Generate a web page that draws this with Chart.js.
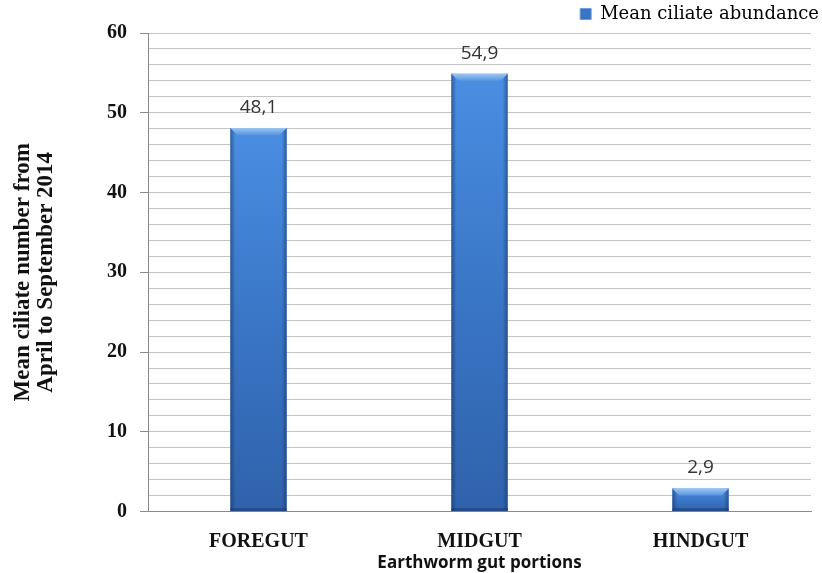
<!DOCTYPE html>
<html>
<head>
<meta charset="utf-8">
<script src="https://cdn.jsdelivr.net/npm/chart.js@4"></script>
<style>
  html, body { margin: 0; padding: 0; background: #ffffff; }
  #wrap { width: 822px; height: 573px; }
</style>
</head>
<body>
<div id="wrap"><canvas id="chart" width="822" height="573"></canvas></div>
<script>
// Gut portions and mean ciliate counts (April–September 2014)
const categories = ['FOREGUT', 'MIDGUT', 'HINDGUT'];
const meanAbundance = [48.1, 54.9, 2.9];
const seriesName = 'Mean ciliate abundance';
const yTitle = ['Mean ciliate number from', 'April to September 2014'];
const xTitle = 'Earthworm gut portions';

const serif = "'Liberation Serif', 'DejaVu Serif', serif";
const wideSerif = "'DejaVu Serif', 'Liberation Serif', serif";
const sans = "'Open Sans', 'Noto Sans', sans-serif";
const BAR_PCT = 0.255;

// Vertical shading: light at the top of each column, deeper toward its base
function barFill(ctx) {
  const chart = ctx.chart;
  const ys = chart.scales && chart.scales.y;
  if (ctx.type !== 'data' || !ys || !chart.chartArea) return '#3b78c8';
  const top = ys.getPixelForValue(meanAbundance[ctx.dataIndex]);
  const base = ys.getPixelForValue(0);
  if (!Number.isFinite(top) || !Number.isFinite(base) || base === top) return '#3b78c8';
  const g = chart.ctx.createLinearGradient(0, top, 0, base);
  g.addColorStop(0, '#4a8ee2');
  g.addColorStop(0.5, '#3a76c6');
  g.addColorStop(1, '#2f62ab');
  return g;
}

// Bevel on top, dark rims on the sides and the value label above each bar
const barDecor = {
  id: 'barDecor',
  afterDatasetsDraw(chart) {
    const ctx = chart.ctx;
    const meta = chart.getDatasetMeta(0);
    meta.data.forEach((bar, i) => {
      const w = bar.width;
      const left = bar.x - w / 2, right = bar.x + w / 2;
      const top = bar.y, base = bar.base;
      const bev = 7;
      ctx.save();
      const gl = ctx.createLinearGradient(left, 0, left + 5, 0);
      gl.addColorStop(0, 'rgba(20,50,100,0.55)');
      gl.addColorStop(1, 'rgba(20,50,100,0)');
      ctx.fillStyle = gl;
      ctx.fillRect(left, top, 5, base - top);
      const gr = ctx.createLinearGradient(right - 5, 0, right, 0);
      gr.addColorStop(0, 'rgba(20,50,100,0)');
      gr.addColorStop(1, 'rgba(20,50,100,0.55)');
      ctx.fillStyle = gr;
      ctx.fillRect(right - 5, top, 5, base - top);
      const g = ctx.createLinearGradient(0, top, 0, top + bev);
      g.addColorStop(0, '#9cc6f4');
      g.addColorStop(1, '#5a96e0');
      ctx.fillStyle = g;
      ctx.beginPath();
      ctx.moveTo(left, top);
      ctx.lineTo(right, top);
      ctx.lineTo(right - bev, top + bev);
      ctx.lineTo(left + bev, top + bev);
      ctx.closePath();
      ctx.fill();
      ctx.fillStyle = 'rgba(25,55,105,0.5)';
      ctx.fillRect(left, base - 3, w, 3);
      ctx.restore();

      ctx.save();
      ctx.fillStyle = '#333333';
      ctx.font = "19px " + sans;
      ctx.textAlign = 'center';
      ctx.textBaseline = 'alphabetic';
      ctx.fillText(String(meanAbundance[i]).replace('.', ','), bar.x, top - 15);
      ctx.restore();
    });
  }
};

new Chart(document.getElementById('chart'), {
  type: 'bar',
  data: {
    labels: categories,
    datasets: [{
      label: seriesName,
      data: meanAbundance,
      backgroundColor: barFill,
      borderWidth: 0,
      categoryPercentage: 1.0,
      barPercentage: BAR_PCT
    }]
  },
  options: {
    responsive: false,
    animation: false,
    layout: { padding: { left: 12, right: 3, top: 5, bottom: 0 } },
    plugins: {
      tooltip: { enabled: false },
      legend: {
        position: 'top',
        align: 'end',
        labels: {
          boxWidth: 11,
          boxHeight: 11,
          padding: 0,
          color: '#222222',
          font: { family: wideSerif, size: 18 },
          generateLabels() {
            return [{
              text: seriesName,
              fillStyle: '#3a74c2',
              strokeStyle: '#6a9ee0',
              lineWidth: 1,
              hidden: false,
              datasetIndex: 0
            }];
          }
        }
      }
    },
    scales: {
      x: {
        grid: { display: false, drawTicks: false },
        border: { display: true, color: '#8a8a8a', width: 1 },
        ticks: {
          color: '#111111',
          padding: 18,
          font: { family: serif, size: 20, weight: 'bold' }
        },
        title: {
          display: true,
          text: xTitle,
          color: '#111111',
          padding: { top: -19, bottom: 0 },
          font: { family: sans, size: 17, weight: 'bold' }
        }
      },
      y: {
        min: 0,
        max: 60,
        ticks: {
          stepSize: 2,
          autoSkip: false,
          padding: 13,
          color: '#111111',
          font: { family: serif, size: 20, weight: 'bold' },
          callback: (v) => (v % 10 === 0 ? String(v) : '')
        },
        grid: {
          color: '#c4c4c4',
          lineWidth: 1,
          tickLength: 8,
          tickColor: (c) => (c.tick && c.tick.value % 10 === 0 ? '#8a8a8a' : 'rgba(0,0,0,0)')
        },
        border: { display: true, color: '#8a8a8a', width: 1 },
        title: {
          display: true,
          text: yTitle,
          color: '#111111',
          padding: { top: 0, bottom: 36 },
          font: { family: serif, size: 23, weight: 'bold', lineHeight: 1.0 }
        }
      },
      // narrow spacer so the plot stops short of the legend's right edge
      spacer: {
        type: 'linear',
        position: 'right',
        display: true,
        ticks: { display: false },
        grid: { display: false, drawTicks: false },
        border: { display: false },
        afterFit: (s) => { s.width = 8; }
      }
    }
  },
  plugins: [barDecor]
});
</script>
</body>
</html>
